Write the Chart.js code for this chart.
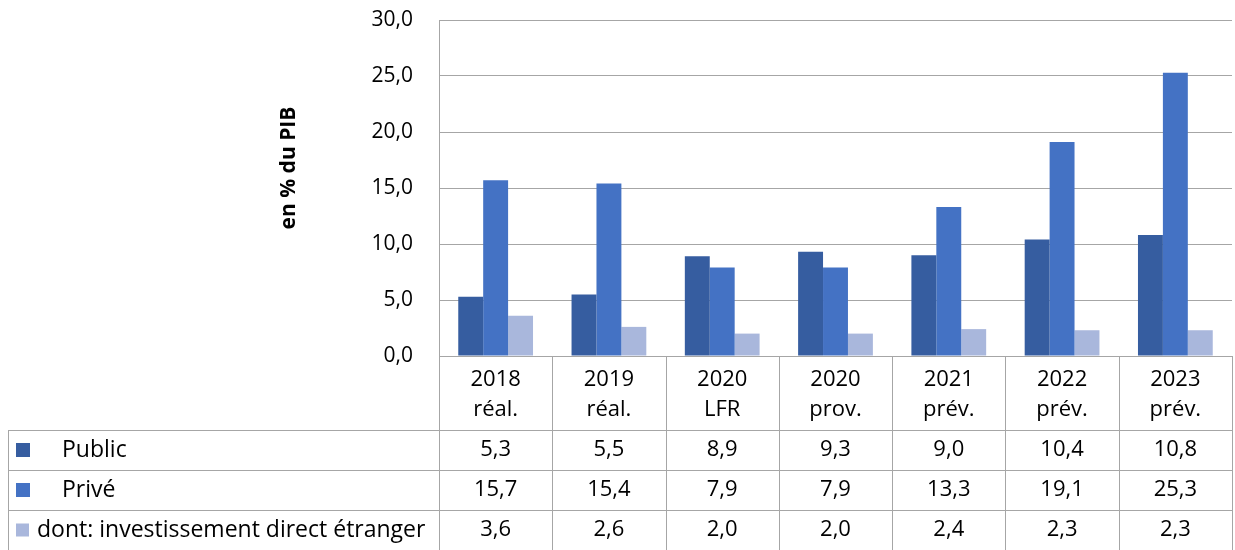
<!DOCTYPE html>
<html>
<head>
<meta charset="utf-8">
<script src="https://cdn.jsdelivr.net/npm/chart.js@4"></script>
<style>
    html, body { margin: 0; padding: 0; background: #fff; }
    #wrap { width: 1235px; height: 550px; }
</style>
</head>
<body>
<div id="wrap"><canvas id="chart" width="1235" height="550"></canvas></div>
<script>
// Données
const years = ['2018', '2019', '2020', '2020', '2021', '2022', '2023'];
const stages = ['réal.', 'réal.', 'LFR', 'prov.', 'prév.', 'prév.', 'prév.'];
const seriesNames = ['Public', 'Privé', 'dont: investissement direct étranger'];
const publicValues = [5.3, 5.5, 8.9, 9.3, 9.0, 10.4, 10.8];
const priveValues = [15.7, 15.4, 7.9, 7.9, 13.3, 19.1, 25.3];
const ideValues = [3.6, 2.6, 2.0, 2.0, 2.4, 2.3, 2.3];
const yTicks = [0, 5, 10, 15, 20, 25, 30];

const colors = ['#365DA0', '#4472C4', '#A9B7DC'];
const gridColor = '#A6A6A6';
const fontFamily = '"Open Sans", Lato, sans-serif';

const fmt = v => v.toFixed(1).replace('.', ',');

// Tableau de données sous le graphique
const dataTablePlugin = {
    id: 'dataTable',
    afterDraw(chart) {
        const ctx = chart.ctx;
        const x = chart.scales.x;
        const area = chart.chartArea;
        const n = years.length;
        const colW = (area.right - area.left) / n;
        const headerBottom = 430;
        const rowH = 40;
        const tableLeft = 8;

        ctx.save();
        ctx.strokeStyle = gridColor;
        ctx.lineWidth = 1;

        // lignes verticales
        for (let i = 0; i <= n; i++) {
            const px = Math.round(area.left + i * colW) + 0.5;
            ctx.beginPath();
            ctx.moveTo(px, area.bottom);
            ctx.lineTo(px, 550);
            ctx.stroke();
        }
        ctx.beginPath();
        ctx.moveTo(tableLeft + 0.5, headerBottom);
        ctx.lineTo(tableLeft + 0.5, 550);
        ctx.stroke();

        // lignes horizontales
        for (let r = 0; r < 3; r++) {
            const py = headerBottom + r * rowH + 0.5;
            ctx.beginPath();
            ctx.moveTo(tableLeft, py);
            ctx.lineTo(area.right, py);
            ctx.stroke();
        }

        ctx.fillStyle = '#000';
        ctx.font = '22px ' + fontFamily;
        ctx.textAlign = 'center';
        ctx.textBaseline = 'middle';

        // en-têtes des catégories
        years.forEach((y, i) => {
            const cx = x.getPixelForValue(i);
            ctx.fillText(y, cx, 380);
            ctx.fillText(stages[i], cx, 410);
        });

        // valeurs
        const rows = [publicValues, priveValues, ideValues];
        rows.forEach((vals, r) => {
            const cy = headerBottom + r * rowH + rowH / 2;
            vals.forEach((v, i) => {
                ctx.fillText(fmt(v), x.getPixelForValue(i), cy);
            });
        });

        // légende
        ctx.textAlign = 'left';
        ctx.font = '23px ' + fontFamily;
        const legendItems = [
            { size: 14, textX: 62 },
            { size: 14, textX: 62 },
            { size: 13, textX: 37 }
        ];
        legendItems.forEach((item, r) => {
            const cy = headerBottom + r * rowH + rowH / 2;
            ctx.fillStyle = colors[r];
            ctx.fillRect(16, cy - item.size / 2, item.size, item.size);
            ctx.fillStyle = '#000';
            ctx.fillText(seriesNames[r], item.textX, cy);
        });

        // titre de l'axe Y
        ctx.save();
        ctx.translate(289, 168);
        ctx.rotate(-Math.PI / 2);
        ctx.textAlign = 'center';
        ctx.font = 'bold 21px ' + fontFamily;
        ctx.fillText('en % du PIB', 0, 0);
        ctx.restore();

        ctx.restore();
    }
};

const ctx = document.getElementById('chart').getContext('2d');
new Chart(ctx, {
    type: 'bar',
    data: {
        labels: years.map((y, i) => y + ' ' + stages[i]),
        datasets: [
            { label: seriesNames[0], data: publicValues, backgroundColor: colors[0] },
            { label: seriesNames[1], data: priveValues, backgroundColor: colors[1] },
            { label: seriesNames[2], data: ideValues, backgroundColor: colors[2] }
        ]
    },
    options: {
        responsive: false,
        animation: false,
        layout: {
            padding: { top: 20, right: 3, bottom: 194, left: 0 }
        },
        datasets: {
            bar: { categoryPercentage: 0.66, barPercentage: 1 }
        },
        scales: {
            x: {
                display: false
            },
            y: {
                min: 0,
                max: 30,
                afterFit(scale) {
                    scale.width = 439;
                    scale.paddingTop = 0;
                    scale.paddingBottom = 0;
                },
                afterBuildTicks(scale) { scale.ticks = yTicks.map(v => ({ value: v })); },
                border: { display: true, color: gridColor },
                grid: { color: gridColor, drawTicks: false },
                ticks: {
                    padding: 26,
                    color: '#000',
                    font: { size: 21, family: fontFamily },
                    callback: v => fmt(v)
                }
            }
        },
        plugins: {
            legend: { display: false },
            tooltip: { enabled: false }
        }
    },
    plugins: [dataTablePlugin]
});
</script>
</body>
</html>
